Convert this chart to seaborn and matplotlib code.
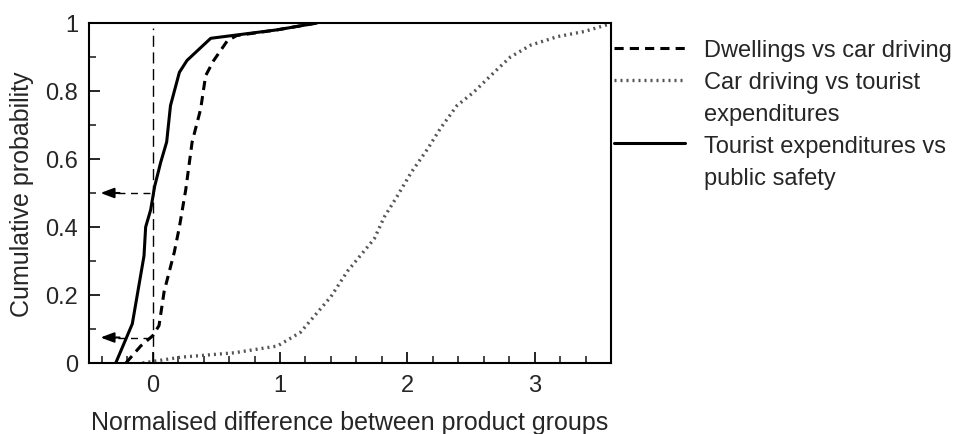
import matplotlib
matplotlib.use("Agg")
import matplotlib.pyplot as plt
from matplotlib.lines import Line2D
import seaborn as sns
import pandas as pd

# ---- data ----
dw_x = [-0.21, -0.094, 0.0, 0.05, 0.09, 0.17, 0.21, 0.26, 0.31, 0.377, 0.416, 0.48, 0.587, 0.66, 0.98, 1.29]
dw_y = [0.0, 0.05, 0.08, 0.11, 0.21, 0.326, 0.40, 0.51, 0.65, 0.747, 0.845, 0.89, 0.948, 0.963, 0.98, 1.0]

cd_x = [-0.08, 0.22, 0.64, 0.98, 1.16, 1.32, 1.40, 1.53, 1.74, 1.82, 1.92, 2.03, 2.16, 2.26, 2.39, 2.52, 2.71, 2.81, 2.97, 3.18, 3.39, 3.57]
cd_y = [0.0, 0.017, 0.03, 0.05, 0.09, 0.16, 0.195, 0.27, 0.365, 0.43, 0.49, 0.56, 0.63, 0.69, 0.757, 0.796, 0.865, 0.90, 0.935, 0.96, 0.975, 0.995]

tp_x = [-0.29, -0.16, -0.068, -0.055, -0.016, 0.016, 0.063, 0.11, 0.14, 0.21, 0.27, 0.456, 0.665, 0.98, 1.29]
tp_y = [0.0, 0.115, 0.315, 0.40, 0.45, 0.52, 0.59, 0.65, 0.757, 0.855, 0.89, 0.955, 0.965, 0.98, 1.0]

labels = ["Dwellings vs car driving",
          "Car driving vs tourist\nexpenditures",
          "Tourist expenditures vs\npublic safety"]

arrow_levels = [0.5, 0.075]
x_ticks = [0, 1, 2, 3]
y_ticks = [0, 0.2, 0.4, 0.6, 0.8, 1]
y_ticklabels = ["0", "0.2", "0.4", "0.6", "0.8", "1"]

# ---- plotting ----
sns.set_style("white")
plt.rcParams['font.family'] = ['Liberation Sans', 'DejaVu Sans']
TXT = "#262626"

fig = plt.figure(figsize=(9.73, 4.35), dpi=100)
ax = fig.add_axes([89/973, 1 - 364/435, (611 - 89)/973, (364 - 24)/435])

df_dw = pd.DataFrame({"x": dw_x, "y": dw_y})
df_cd = pd.DataFrame({"x": cd_x, "y": cd_y})
df_tp = pd.DataFrame({"x": tp_x, "y": tp_y})

sns.lineplot(data=df_dw, x="x", y="y", ax=ax, sort=False, estimator=None,
             color="black", lw=2.2, linestyle=(0, (3, 2)), label=labels[0])
sns.lineplot(data=df_cd, x="x", y="y", ax=ax, sort=False, estimator=None,
             color="#555555", lw=2.4, linestyle=(0, (0.6, 1.2)), label=labels[1])
sns.lineplot(data=df_tp, x="x", y="y", ax=ax, sort=False, estimator=None,
             color="black", lw=2.2, linestyle="-", label=labels[2])
series_lines = list(ax.get_lines())[:3]

# vertical reference line at 0
ax.plot([0, 0], [0, 0.985], color="black", lw=1.0, linestyle=(0, (8, 4)))

# dashed arrows pointing to the y axis
for lv in arrow_levels:
    ax.plot([-0.27, 0], [lv, lv], color="black", lw=1.0, linestyle=(0, (5, 4)))
    ax.annotate("", xy=(-0.41, lv), xytext=(-0.26, lv),
                arrowprops=dict(arrowstyle="-|>,head_length=0.8,head_width=0.3",
                                color="black", lw=1.5, shrinkA=0, shrinkB=0))

ax.set_xlim(-0.5, 3.6)
ax.set_ylim(0, 1)
ax.set_xticks(x_ticks)
ax.set_xticklabels([str(t) for t in x_ticks])
ax.set_yticks(y_ticks)
ax.set_yticklabels(y_ticklabels)
ax.set_xticks([-0.4, -0.2, 0.2, 0.4, 0.6, 0.8, 1.2, 1.4, 1.6, 1.8, 2.2, 2.4, 2.6, 2.8, 3.2, 3.4], minor=True)
ax.set_yticks([0.1, 0.3, 0.5, 0.7, 0.9], minor=True)
ax.tick_params(axis="both", which="major", direction="in", length=8, width=1.2,
               labelsize=17, labelcolor=TXT, color="black", pad=8)
ax.tick_params(axis="both", which="minor", direction="in", length=5, width=1.2)
ax.tick_params(bottom=True, left=True, top=False, right=False)
ax.tick_params(axis="both", which="minor", bottom=True, left=True)

for s in ax.spines.values():
    s.set_color("black")
    s.set_linewidth(1.5)

ax.set_xlabel("Normalised difference between product groups", fontsize=18,
              labelpad=10, color=TXT)
ax.set_ylabel("Cumulative probability", fontsize=18, labelpad=8, color=TXT)

# legend: handle aligned with the first line of each label
handles, texts = [], []
for line, lab in zip(series_lines, labels):
    parts = lab.split("\n")
    handles.append(line)
    texts.append(parts[0])
    for extra in parts[1:]:
        handles.append(Line2D([], [], linestyle="none"))
        texts.append(extra)

leg = ax.legend(handles, texts, loc="upper left",
                bbox_to_anchor=(614/973, 1 - 40/435),
                bbox_transform=fig.transFigure, frameon=False,
                fontsize=17, handlelength=3.0, handletextpad=0.8,
                labelspacing=0.42, borderaxespad=0, borderpad=0)
for t in leg.get_texts():
    t.set_color(TXT)

fig.savefig("out.png", dpi=100)
